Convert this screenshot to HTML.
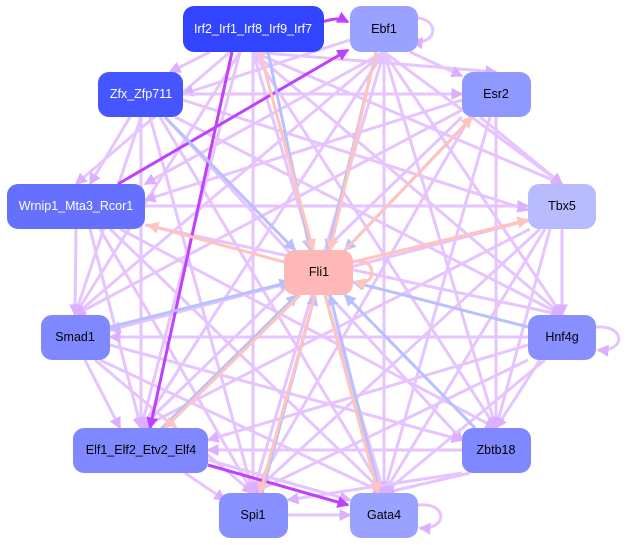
<!DOCTYPE html>
<html><head><meta charset="utf-8"><style>
html,body{margin:0;padding:0;background:#fff;}
svg{display:block;font-family:"Liberation Sans",sans-serif;}
</style></head><body>
<svg width="628" height="545" viewBox="0 0 628 545">
<defs>
<marker id="ml" markerWidth="4" markerHeight="4" refX="3.5" refY="2" orient="auto" markerUnits="strokeWidth"><path d="M0,0L4,2L0,4z" fill="#ddb0ff"/></marker>
<marker id="mp" markerWidth="4" markerHeight="4" refX="3.5" refY="2" orient="auto" markerUnits="strokeWidth"><path d="M0,0L4,2L0,4z" fill="#c040ff"/></marker>
<marker id="mb" markerWidth="4" markerHeight="4" refX="3.5" refY="2" orient="auto" markerUnits="strokeWidth"><path d="M0,0L4,2L0,4z" fill="#b8c0ff"/></marker>
<marker id="ms" markerWidth="4" markerHeight="4" refX="3.5" refY="2" orient="auto" markerUnits="strokeWidth"><path d="M0,0L4,2L0,4z" fill="#ffc4bc"/></marker>
</defs>
<g stroke="#e6c4ff" stroke-width="3" fill="none" marker-end="url(#ml)">
<line x1="253" y1="52" x2="496" y2="72"/><line x1="253" y1="52" x2="562" y2="184"/><line x1="253" y1="52" x2="562" y2="315"/><line x1="253" y1="52" x2="496" y2="428"/><line x1="253" y1="52" x2="384" y2="493"/><line x1="253" y1="52" x2="253" y2="493"/><line x1="240" y1="52" x2="141" y2="428"/><line x1="240" y1="52" x2="75" y2="315"/><line x1="230" y1="52" x2="76" y2="184"/><line x1="210" y1="52" x2="170" y2="72"/>
<line x1="384" y1="52" x2="562" y2="184"/><line x1="384" y1="52" x2="562" y2="315"/><line x1="384" y1="52" x2="496" y2="428"/><line x1="384" y1="52" x2="384" y2="493"/><line x1="384" y1="52" x2="253" y2="493"/><line x1="384" y1="52" x2="141" y2="428"/><line x1="384" y1="52" x2="75" y2="315"/><line x1="384" y1="52" x2="145" y2="184"/><line x1="350" y1="40" x2="183" y2="94"/><line x1="410" y1="52" x2="462" y2="76"/>
<line x1="183" y1="94" x2="462" y2="94"/><line x1="183" y1="100" x2="528" y2="210"/><line x1="175" y1="117" x2="562" y2="315"/><line x1="165" y1="117" x2="462" y2="440"/><line x1="160" y1="117" x2="384" y2="493"/><line x1="150" y1="117" x2="253" y2="493"/><line x1="141" y1="117" x2="141" y2="428"/><line x1="130" y1="117" x2="90" y2="184"/><line x1="141" y1="117" x2="75" y2="315"/>
<line x1="462" y1="100" x2="145" y2="200"/><line x1="480" y1="117" x2="562" y2="184"/><line x1="496" y1="117" x2="496" y2="428"/><line x1="490" y1="117" x2="384" y2="493"/><line x1="470" y1="117" x2="253" y2="493"/><line x1="462" y1="117" x2="141" y2="428"/><line x1="462" y1="110" x2="75" y2="315"/>
<line x1="145" y1="206" x2="528" y2="206"/><line x1="145" y1="225" x2="562" y2="315"/><line x1="120" y1="229" x2="496" y2="428"/><line x1="110" y1="229" x2="384" y2="493"/><line x1="100" y1="229" x2="253" y2="493"/><line x1="90" y1="229" x2="141" y2="428"/><line x1="76" y1="229" x2="75" y2="315"/>
<line x1="562" y1="229" x2="562" y2="315"/><line x1="550" y1="229" x2="496" y2="428"/><line x1="545" y1="229" x2="384" y2="493"/><line x1="540" y1="229" x2="253" y2="493"/><line x1="530" y1="229" x2="141" y2="428"/><line x1="530" y1="220" x2="110" y2="330"/>
<line x1="528" y1="337" x2="110" y2="337"/><line x1="528" y1="345" x2="208" y2="440"/><line x1="545" y1="360" x2="384" y2="493"/><line x1="540" y1="360" x2="496" y2="428"/><line x1="528" y1="360" x2="253" y2="493"/>
<line x1="110" y1="345" x2="462" y2="440"/><line x1="100" y1="360" x2="384" y2="493"/><line x1="95" y1="360" x2="253" y2="493"/><line x1="85" y1="360" x2="120" y2="428"/>
<line x1="462" y1="450" x2="208" y2="450"/><line x1="470" y1="473" x2="384" y2="493"/><line x1="462" y1="473" x2="288" y2="500"/>
<line x1="208" y1="460" x2="350" y2="500"/><line x1="185" y1="473" x2="225" y2="500"/><line x1="288" y1="515" x2="350" y2="515"/>
<path d="M410,18 C440,15 440,45 412,42"/><path d="M418,505 C448,502 448,530 420,528"/><path d="M596,327 C626,325 626,352 598,350"/>
</g>
<g stroke="#c040ff" stroke-width="3" fill="none" marker-end="url(#mp)">
<line x1="118" y1="184" x2="348" y2="50"/><line x1="208" y1="465" x2="348" y2="505"/><line x1="232" y1="52" x2="150" y2="428"/><path d="M322,22 C335,18 340,18 348,22"/>
</g>
<g stroke="#b8c0ff" stroke-width="3" fill="none" marker-end="url(#mb)">
<line x1="165" y1="117" x2="295" y2="250"/><line x1="376" y1="52" x2="328" y2="250"/><line x1="462" y1="128" x2="345" y2="250"/><line x1="110" y1="327" x2="290" y2="282"/><line x1="528" y1="327" x2="353" y2="282"/><line x1="475" y1="428" x2="345" y2="295"/><line x1="262" y1="493" x2="315" y2="295"/><line x1="160" y1="430" x2="297" y2="295"/><line x1="268" y1="52" x2="310" y2="250"/><line x1="380" y1="493" x2="330" y2="295"/>
</g>
<g stroke="#ffc4bc" stroke-width="3" fill="none" marker-end="url(#ms)">
<line x1="284" y1="262" x2="148" y2="225"/><line x1="353" y1="262" x2="528" y2="220"/><line x1="345" y1="250" x2="472" y2="117"/><line x1="300" y1="295" x2="165" y2="428"/><line x1="260" y1="52" x2="313" y2="250"/><line x1="376" y1="52" x2="330" y2="250"/><line x1="315" y1="295" x2="260" y2="493"/><line x1="325" y1="295" x2="378" y2="493"/><path d="M353,262 C378,256 378,288 355,282"/>
</g>
<g font-size="12.5" text-anchor="middle" dominant-baseline="central">
<rect x="183" y="6" width="141" height="46" rx="11" fill="#3344ff"/><text x="253" y="29" fill="#fff">Irf2_Irf1_Irf8_Irf9_Irf7</text>
<rect x="350" y="6" width="68" height="46" rx="11" fill="#9aa2ff"/><text x="384" y="29">Ebf1</text>
<rect x="98" y="72" width="85" height="45" rx="11" fill="#4656ff"/><text x="141" y="94" fill="#fff">Zfx_Zfp711</text>
<rect x="462" y="72" width="69" height="45" rx="11" fill="#8e98ff"/><text x="496" y="94">Esr2</text>
<rect x="7" y="184" width="138" height="45" rx="11" fill="#6670ff"/><text x="76" y="206" fill="#fff">Wrnip1_Mta3_Rcor1</text>
<rect x="528" y="184" width="68" height="45" rx="11" fill="#b8bcff"/><text x="562" y="206">Tbx5</text>
<rect x="284" y="250" width="69" height="45" rx="11" fill="#ffb8b8"/><text x="319" y="272">Fli1</text>
<rect x="41" y="315" width="69" height="45" rx="11" fill="#7f88ff"/><text x="75" y="337">Smad1</text>
<rect x="528" y="315" width="68" height="45" rx="11" fill="#8890ff"/><text x="562" y="337">Hnf4g</text>
<rect x="73" y="428" width="135" height="45" rx="11" fill="#7f88ff"/><text x="141" y="450">Elf1_Elf2_Etv2_Elf4</text>
<rect x="462" y="428" width="69" height="45" rx="11" fill="#8088ff"/><text x="496" y="450">Zbtb18</text>
<rect x="219" y="493" width="69" height="45" rx="11" fill="#8890ff"/><text x="253" y="515">Spi1</text>
<rect x="350" y="493" width="68" height="45" rx="11" fill="#9aa2ff"/><text x="384" y="515">Gata4</text>
</g>
</svg>
</body></html>
